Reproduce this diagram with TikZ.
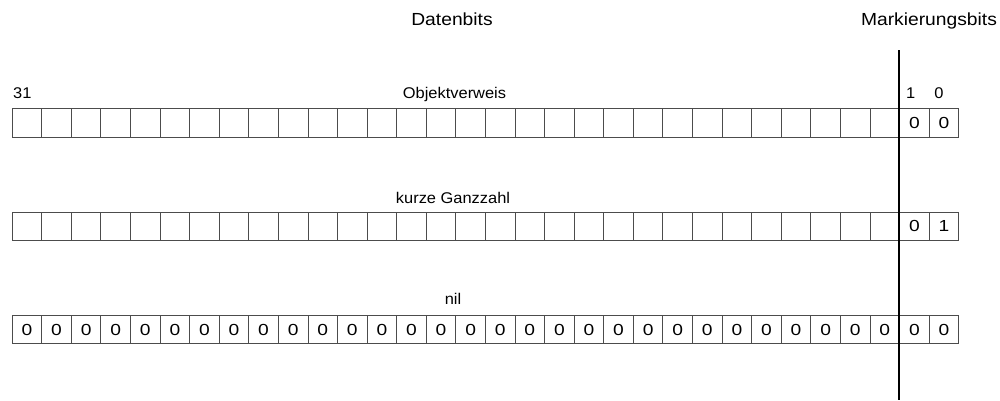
\documentclass[tikz,border=0pt]{standalone}
\usepackage{fontspec}
\setmainfont{Liberation Sans}
\newcommand\wx[2]{\scalebox{#1}[1]{#2}}
\begin{document}
\begin{tikzpicture}[x=1pt,y=-1pt,
  cell/.style={draw=black!70,line width=0.9pt,minimum width=29.58pt,minimum height=28.4pt,
    inner sep=0pt,anchor=north west,font=\fontsize{16}{18}\selectfont},
  lbl/.style={inner sep=0pt,anchor=base,font=\fontsize{15.5}{18}\selectfont},
  head/.style={inner sep=0pt,anchor=base,font=\fontsize{17.5}{20}\selectfont},
  sepline/.style={line width=2pt,black}]
\useasboundingbox (0,0) rectangle (1000,400);
% headings
\node[head] (daten) at (452,25.3) {\wx{1.1}{Datenbits}};
\node[head] (mark) at (929,25.7) {\wx{1.1}{Markierungsbits}};
% row 1: Objektverweis
\node[lbl] (objv) at (454.5,98.3) {\wx{1.06}{Objektverweis}};
\node[lbl] (b31) at (22.3,98.3) {\wx{1.06}{31}};
\node[lbl] (b1) at (910.7,98.3) {\wx{1.06}{1}};
\node[lbl] (b0) at (939,98.3) {\wx{1.06}{0}};
\foreach \i in {0,...,29} {
  \node[cell] (a\i) at ({11.7+29.58*\i},108.3) {};
}
\node[cell] (a30) at ({11.7+29.58*30},108.3) {\wx{1.2}{0}};
\node[cell] (a31) at ({11.7+29.58*31},108.3) {\wx{1.2}{0}};
% row 2: kurze Ganzzahl
\node[lbl] (kgz) at (453,203.3) {\wx{1.06}{kurze Ganzzahl}};
\foreach \i in {0,...,29} {
  \node[cell] (b\i) at ({11.7+29.58*\i},211.7) {};
}
\node[cell] (b30) at ({11.7+29.58*30},211.7) {\wx{1.2}{0}};
\node[cell] (b31) at ({11.7+29.58*31},211.7) {\wx{1.2}{1}};
% row 3: nil
\node[lbl] (nil) at (453,304.3) {\wx{1.06}{nil}};
\foreach \i in {0,...,31} {
  \node[cell] (c\i) at ({11.7+29.58*\i},315) {\wx{1.2}{0}};
}
% separator
\coordinate (vtop) at (899.3,50);
\coordinate (vbot) at (899.3,400);
\draw[sepline] (vtop) -- (vbot);
\end{tikzpicture}
\end{document}
